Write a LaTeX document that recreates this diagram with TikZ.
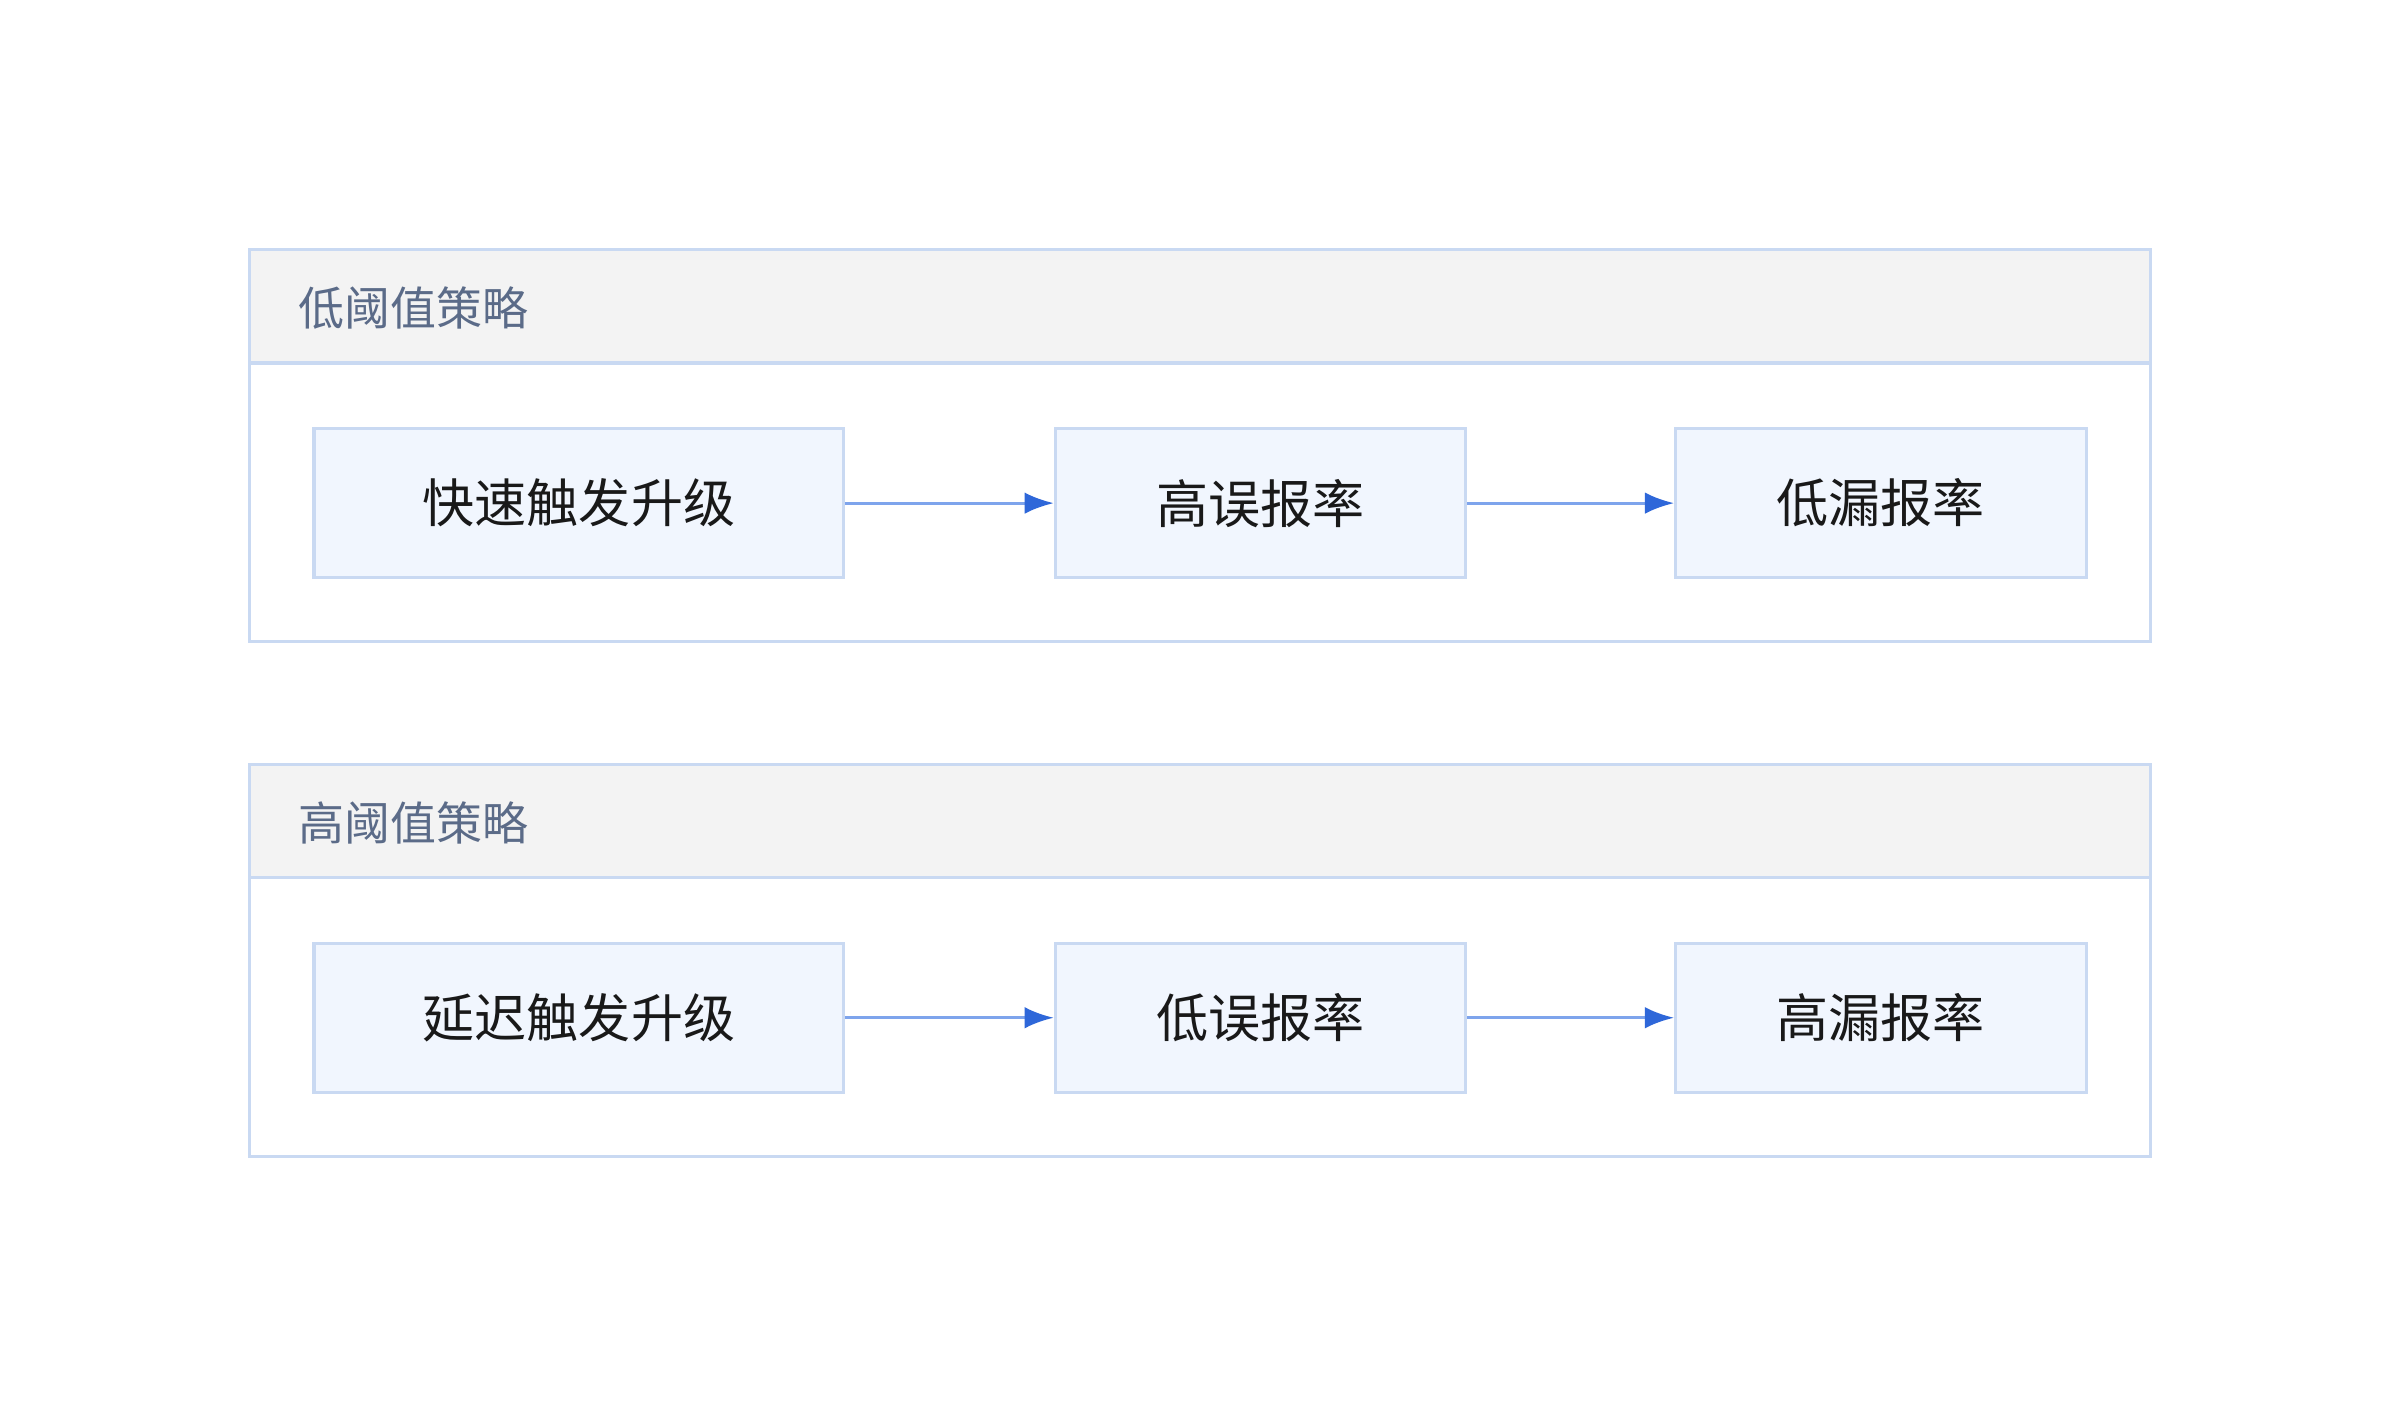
\documentclass[tikz,border=0pt]{standalone}
\usepackage{fontspec}
\newfontfamily\cjk{Noto Sans CJK SC}
\usetikzlibrary{arrows.meta}
\definecolor{bord}{HTML}{C9D9F2}
\definecolor{nfill}{HTML}{F1F6FE}
\definecolor{hfill}{HTML}{F3F3F3}
\definecolor{htext}{HTML}{5B6B88}
\definecolor{aline}{HTML}{7EA4EC}
\definecolor{ahead}{HTML}{2E67D9}
\tikzset{
  grp/.style={draw=bord,line width=2pt},
  hdr/.style={draw=bord,fill=hfill,line width=2pt},
  box/.style={draw=bord,fill=nfill,line width=2pt,font=\cjk\fontsize{34}{40}\selectfont,text=black!90},
  htxt/.style={anchor=west,font=\cjk\fontsize{30}{36}\selectfont,text=htext,inner sep=0},
  arr/.style={draw=aline,line width=2pt,-{Latex[length=19pt,width=14pt,color=ahead]}}
}
\begin{document}
\begin{tikzpicture}[x=1pt,y=-1pt]
\useasboundingbox (0,0) rectangle (1567,918);
\fill[white] (0,0) rectangle (1567,918);
% group 1
\draw[grp] (163,163) rectangle (1404,419);
\draw[hdr] (163,163) rectangle (1404,237);
\node[htxt] (h1) at (195,201) {低阈值策略};
\node[box,minimum width=346pt,minimum height=97pt] (a1) at (378,328.5) {快速触发升级};
\node[box,minimum width=268pt,minimum height=97pt] (a2) at (823,328.5) {高误报率};
\node[box,minimum width=268pt,minimum height=97pt] (a3) at (1228,328.5) {低漏报率};
\draw[arr] (a1) -- (a2);
\draw[arr] (a2) -- (a3);
% group 2
\draw[grp] (163,499) rectangle (1404,755);
\draw[hdr] (163,499) rectangle (1404,573);
\node[htxt] (h2) at (195,537) {高阈值策略};
\node[box,minimum width=346pt,minimum height=97pt] (b1) at (378,664.5) {延迟触发升级};
\node[box,minimum width=268pt,minimum height=97pt] (b2) at (823,664.5) {低误报率};
\node[box,minimum width=268pt,minimum height=97pt] (b3) at (1228,664.5) {高漏报率};
\draw[arr] (b1) -- (b2);
\draw[arr] (b2) -- (b3);
\end{tikzpicture}
\end{document}
